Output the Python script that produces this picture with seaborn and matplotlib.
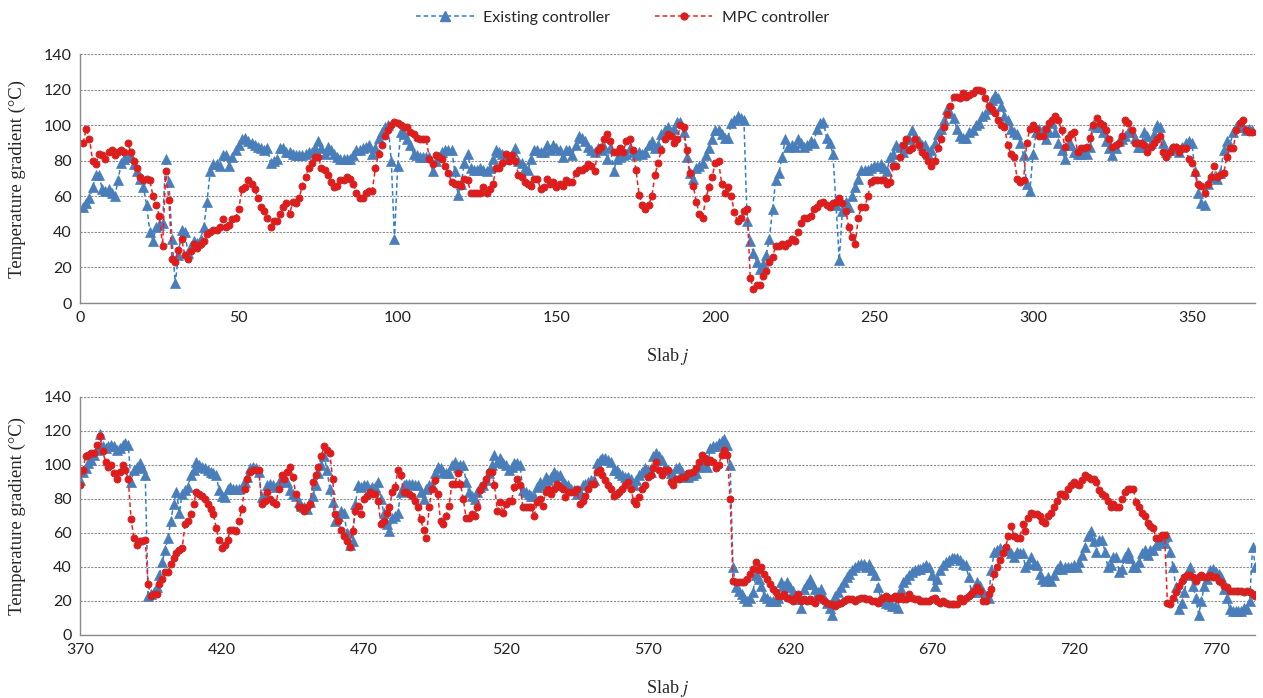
import matplotlib
matplotlib.use('Agg')
import pandas as pd
import matplotlib.pyplot as plt
from matplotlib.lines import Line2D
import seaborn as sns

# Existing controller / MPC controller, slabs 1..369 (upper panel)
existing_top = [
    54, 56, 59, 65, 72, 72, 64, 63, 64, 62,
    60, 69, 79, 81, 82, 82, 78, 74, 70, 65,
    55, 40, 35, 43, 44, 45, 81, 68, 36, 11,
    27, 41, 40, 28, 32, 35, 34, 36, 43, 57,
    74, 78, 78, 77, 83, 83, 77, 82, 86, 89,
    92, 93, 91, 90, 89, 88, 87, 86, 87, 79,
    80, 81, 87, 87, 85, 85, 84, 83, 83, 83,
    84, 85, 85, 87, 91, 87, 84, 88, 86, 84,
    82, 81, 81, 81, 81, 83, 86, 86, 87, 88,
    89, 84, 87, 93, 96, 99, 100, 80, 36, 77,
    96, 95, 92, 89, 84, 83, 82, 82, 82, 82,
    74, 80, 82, 85, 86, 86, 86, 74, 61, 67,
    79, 84, 76, 75, 75, 76, 75, 74, 76, 81,
    86, 85, 84, 81, 82, 83, 87, 80, 79, 76,
    75, 81, 86, 86, 85, 85, 89, 86, 89, 87,
    86, 82, 86, 86, 83, 89, 94, 93, 91, 88,
    86, 85, 87, 86, 88, 81, 87, 74, 81, 82,
    83, 84, 87, 85, 83, 85, 84, 85, 89, 91,
    87, 89, 95, 97, 99, 96, 98, 102, 102, 96,
    82, 73, 70, 76, 77, 79, 83, 87, 92, 97,
    97, 95, 93, 93, 101, 103, 105, 104, 103, 46,
    35, 28, 23, 19, 22, 27, 36, 53, 69, 73,
    82, 92, 88, 89, 88, 92, 90, 88, 89, 91,
    90, 98, 101, 102, 93, 90, 84, 55, 24, 52,
    57, 54, 60, 65, 70, 75, 75, 75, 76, 77,
    77, 78, 76, 74, 82, 84, 89, 88, 85, 87,
    92, 97, 94, 91, 89, 89, 84, 86, 90, 95,
    98, 103, 109, 107, 104, 98, 94, 93, 93, 96,
    97, 100, 101, 105, 106, 109, 114, 117, 115, 111,
    105, 103, 98, 96, 95, 90, 83, 67, 63, 84,
    96, 98, 97, 92, 96, 101, 96, 90, 86, 81,
    89, 89, 85, 84, 84, 85, 84, 88, 100, 99,
    99, 96, 91, 87, 83, 87, 91, 92, 94, 96,
    96, 93, 88, 88, 96, 94, 90, 95, 100, 99,
    90, 85, 86, 87, 87, 85, 88, 90, 91, 90,
    74, 62, 56, 55, 67, 71, 71, 70, 73, 86,
    91, 89, 96, 99, 101, 99, 97, 98, 97,
]
mpc_top = [
    90, 98, 92, 80, 78, 84, 83, 81, 85, 86,
    83, 85, 86, 85, 90, 85, 80, 76, 71, 69,
    70, 69, 60, 55, 49, 32, 74, 58, 25, 23,
    30, 36, 27, 25, 29, 33, 31, 33, 35, 39,
    40, 41, 41, 43, 47, 43, 44, 47, 48, 53,
    64, 65, 69, 67, 64, 59, 54, 52, 48, 43,
    46, 46, 50, 54, 56, 50, 57, 56, 59, 66,
    71, 76, 79, 82, 82, 76, 75, 72, 68, 65,
    66, 69, 69, 71, 70, 67, 62, 59, 59, 62,
    63, 63, 76, 84, 89, 94, 97, 100, 102, 101,
    100, 99, 99, 96, 95, 93, 92, 92, 92, 81,
    78, 83, 82, 81, 77, 73, 68, 67, 67, 66,
    70, 69, 62, 62, 62, 62, 65, 62, 64, 67,
    76, 76, 79, 84, 80, 83, 80, 72, 71, 68,
    67, 66, 70, 70, 64, 65, 70, 67, 68, 65,
    67, 66, 69, 68, 68, 73, 75, 75, 76, 78,
    77, 74, 86, 88, 92, 95, 91, 85, 85, 87,
    85, 91, 92, 86, 75, 61, 55, 53, 55, 60,
    72, 79, 86, 92, 95, 94, 90, 92, 100, 99,
    86, 73, 66, 57, 50, 48, 59, 65, 71, 79,
    80, 67, 62, 65, 60, 51, 46, 48, 52, 53,
    14, 8, 10, 10, 15, 18, 23, 26, 32, 32,
    33, 32, 34, 36, 35, 40, 45, 48, 48, 49,
    53, 54, 56, 57, 55, 54, 56, 57, 59, 56,
    52, 43, 37, 33, 48, 54, 54, 60, 68, 69,
    69, 69, 69, 67, 68, 77, 77, 82, 89, 92,
    86, 87, 92, 89, 85, 83, 80, 77, 80, 87,
    92, 99, 106, 111, 116, 116, 115, 118, 116, 117,
    118, 120, 120, 119, 115, 111, 109, 107, 103, 100,
    99, 89, 84, 82, 70, 68, 69, 90, 98, 100,
    98, 94, 94, 98, 101, 103, 105, 103, 97, 88,
    93, 95, 96, 85, 87, 87, 88, 93, 100, 104,
    101, 100, 97, 92, 88, 89, 90, 94, 103, 101,
    97, 90, 90, 90, 89, 85, 88, 90, 92, 94,
    85, 82, 85, 88, 88, 85, 87, 87, 81, 79,
    73, 67, 66, 62, 67, 71, 77, 71, 72, 73,
    82, 87, 87, 97, 101, 103, 97, 96, 96,
]

# slabs 370..784 (lower panel)
existing_bottom = [
    91, 96, 98, 101, 103, 106, 109, 118, 111, 110,
    111, 112, 111, 109, 110, 112, 113, 112, 90, 97,
    99, 101, 98, 94, 23, 24, 25, 28, 35, 43,
    50, 57, 67, 77, 84, 72, 83, 85, 87, 94,
    97, 102, 100, 99, 98, 97, 96, 95, 94, 85,
    82, 81, 86, 87, 86, 86, 86, 87, 90, 93,
    98, 99, 98, 96, 81, 82, 88, 89, 88, 87,
    90, 92, 91, 90, 85, 83, 82, 78, 76, 75,
    74, 78, 82, 88, 95, 100, 105, 97, 86, 78,
    67, 70, 73, 72, 60, 53, 55, 77, 88, 87,
    88, 88, 85, 87, 87, 90, 80, 72, 65, 61,
    69, 70, 72, 84, 88, 89, 89, 89, 88, 88,
    84, 80, 86, 88, 88, 95, 99, 98, 96, 95,
    95, 100, 102, 99, 100, 100, 90, 84, 82, 80,
    84, 87, 88, 91, 95, 100, 106, 102, 104, 101,
    100, 97, 99, 101, 101, 100, 85, 84, 83, 82,
    82, 87, 90, 88, 93, 91, 93, 96, 94, 94,
    90, 89, 88, 86, 85, 83, 84, 88, 89, 90,
    91, 91, 101, 103, 104, 104, 103, 102, 97, 97,
    95, 94, 93, 93, 92, 88, 91, 94, 96, 98,
    97, 96, 105, 107, 105, 103, 99, 97, 95, 94,
    98, 99, 96, 93, 93, 94, 94, 95, 99, 101,
    100, 99, 110, 111, 111, 113, 114, 115, 112, 100,
    40, 28, 26, 24, 22, 20, 22, 25, 35, 33,
    29, 23, 22, 20, 20, 20, 22, 31, 29, 31,
    28, 26, 23, 21, 16, 27, 30, 33, 30, 27,
    25, 27, 22, 19, 16, 12, 23, 25, 28, 31,
    34, 36, 38, 40, 41, 42, 42, 40, 42, 38,
    35, 28, 22, 20, 19, 18, 17, 17, 16, 27,
    31, 33, 35, 37, 38, 39, 39, 40, 41, 40,
    35, 29, 33, 38, 41, 43, 44, 45, 45, 45,
    44, 42, 41, 34, 25, 25, 31, 29, 25, 23,
    22, 38, 49, 50, 51, 50, 50, 50, 48, 46,
    49, 48, 48, 40, 42, 46, 42, 41, 36, 33,
    32, 34, 32, 35, 39, 41, 39, 40, 40, 40,
    41, 40, 43, 47, 52, 58, 61, 55, 49, 56,
    56, 49, 40, 41, 46, 46, 37, 39, 46, 49,
    45, 40, 40, 43, 48, 50, 47, 50, 50, 53,
    54, 55, 54, 58, 49, 40, 28, 15, 19, 25,
    35, 40, 29, 22, 12, 20, 29, 33, 38, 39,
    37, 36, 34, 27, 22, 15, 14, 14, 14, 14,
    16, 15, 20, 52, 40,
]
mpc_bottom = [
    88, 97, 105, 106, 107, 107, 112, 117, 108, 102,
    99, 100, 95, 92, 96, 100, 97, 92, 68, 57,
    53, 55, 55, 56, 30, 23, 24, 24, 30, 33,
    37, 37, 42, 45, 48, 50, 51, 65, 67, 71,
    77, 84, 83, 82, 80, 77, 74, 71, 63, 56,
    51, 53, 56, 62, 62, 61, 67, 74, 86, 92,
    96, 97, 97, 97, 77, 79, 84, 80, 78, 77,
    86, 94, 92, 96, 99, 93, 83, 75, 75, 73,
    75, 77, 90, 94, 99, 105, 111, 109, 107, 92,
    71, 67, 62, 58, 55, 52, 61, 73, 76, 71,
    80, 82, 84, 83, 83, 79, 65, 67, 72, 75,
    84, 87, 97, 94, 84, 84, 83, 82, 79, 75,
    68, 62, 57, 75, 86, 91, 83, 67, 65, 70,
    76, 89, 89, 95, 89, 80, 69, 69, 71, 70,
    75, 85, 88, 92, 96, 96, 88, 73, 78, 72,
    77, 79, 79, 87, 92, 88, 75, 75, 75, 75,
    70, 78, 80, 76, 84, 86, 83, 86, 89, 87,
    86, 81, 84, 84, 84, 86, 77, 79, 82, 86,
    89, 89, 96, 97, 94, 91, 88, 86, 82, 83,
    84, 86, 88, 90, 86, 79, 77, 81, 86, 88,
    93, 94, 98, 102, 97, 94, 97, 97, 90, 88,
    92, 92, 93, 93, 95, 95, 96, 98, 102, 106,
    104, 102, 103, 102, 98, 100, 106, 109, 106, 80,
    32, 31, 31, 31, 31, 33, 36, 39, 43, 38,
    40, 36, 33, 30, 27, 25, 23, 23, 24, 22,
    21, 20, 22, 24, 20, 21, 20, 21, 20, 19,
    22, 22, 20, 19, 18, 18, 17, 18, 19, 20,
    21, 21, 21, 20, 21, 22, 22, 21, 21, 20,
    20, 19, 21, 22, 23, 22, 22, 23, 21, 23,
    21, 21, 24, 22, 21, 21, 20, 20, 20, 20,
    21, 22, 20, 19, 20, 19, 18, 18, 18, 18,
    22, 20, 22, 23, 24, 26, 28, 26, 20, 20,
    24, 27, 36, 40, 44, 48, 52, 58, 64, 58,
    57, 57, 65, 61, 69, 72, 71, 71, 70, 67,
    66, 70, 72, 75, 79, 83, 83, 82, 86, 88,
    90, 89, 88, 91, 94, 93, 92, 92, 90, 85,
    83, 82, 79, 75, 77, 75, 75, 80, 84, 86,
    86, 86, 78, 75, 72, 70, 66, 64, 63, 57,
    57, 59, 59, 19, 18, 22, 25, 29, 32, 34,
    35, 35, 34, 32, 34, 35, 34, 34, 35, 34,
    34, 32, 31, 29, 28, 26, 26, 26, 26, 26,
    25, 26, 25, 24, 23,
]

slab_top = list(range(1, len(existing_top) + 1))
slab_bottom = list(range(370, 370 + len(existing_bottom)))

y_ticks = [0, 20, 40, 60, 80, 100, 120, 140]
x_ticks_top = [0, 50, 100, 150, 200, 250, 300, 350]
x_ticks_bottom = [370, 420, 470, 520, 570, 620, 670, 720, 770]

BLUE_LINE = '#2F7FD0'
BLUE_MARK = '#4A7EBB'
RED_LINE = '#FF1A1A'
RED_FACE = '#F01515'
RED_EDGE = '#B83030'
GRID = '#8C8C8C'

sns.set_theme(style='white')
plt.rcParams['font.family'] = ['Lato', 'DejaVu Sans']
plt.rcParams['mathtext.fontset'] = 'stix'


def draw_panel(ax, slabs, existing, mpc, xlim, xticks):
    df = pd.DataFrame({'slab': slabs, 'existing': existing, 'mpc': mpc})
    sns.lineplot(data=df, x='slab', y='existing', ax=ax, color=BLUE_LINE,
                 linewidth=1.1, linestyle=(0, (3, 2)), marker='^',
                 markersize=7, markerfacecolor=BLUE_MARK,
                 markeredgecolor=BLUE_MARK, markeredgewidth=0.5,
                 errorbar=None)
    sns.lineplot(data=df, x='slab', y='mpc', ax=ax, color=RED_LINE,
                 linewidth=1.1, linestyle=(0, (3, 2)), marker='o',
                 markersize=5, markerfacecolor=RED_FACE,
                 markeredgecolor=RED_EDGE, markeredgewidth=0.7,
                 errorbar=None)
    ax.set_xlim(*xlim)
    ax.set_ylim(0, 140)
    ax.set_xticks(xticks)
    ax.set_yticks(y_ticks)
    ax.yaxis.grid(True, color=GRID, linestyle=(0, (2, 1.2)), linewidth=0.8)
    ax.xaxis.grid(False)
    ax.set_axisbelow(True)
    for side in ['top', 'right']:
        ax.spines[side].set_visible(False)
    for side in ['left', 'bottom']:
        ax.spines[side].set_color('#8A8A8A')
        ax.spines[side].set_linewidth(1.0)
    ax.tick_params(axis='both', length=0, labelsize=11.5, colors='#222222', pad=6)
    ax.set_ylabel('Temperature gradient (°C)', family='Liberation Serif', fontsize=13.5)
    ax.yaxis.set_label_coords(-0.046, 0.5)
    ax.set_xlabel('Slab $j$', family='Liberation Serif', fontsize=13, labelpad=15)


fig = plt.figure(figsize=(12.63, 6.98), dpi=100)
ax_top = fig.add_axes([0.0633, 0.5659, 0.9307, 0.3567])
ax_bot = fig.add_axes([0.0633, 0.0903, 0.9307, 0.3410])

draw_panel(ax_top, slab_top, existing_top, mpc_top, (0, 370), x_ticks_top)
draw_panel(ax_bot, slab_bottom, existing_bottom, mpc_bottom, (370, 784), x_ticks_bottom)

handles = [
    Line2D([], [], color=BLUE_LINE, linewidth=1.1, linestyle=(0, (3, 2)),
           marker='^', markersize=7, markerfacecolor=BLUE_MARK,
           markeredgecolor=BLUE_MARK),
    Line2D([], [], color=RED_LINE, linewidth=1.1, linestyle=(0, (3, 2)),
           marker='o', markersize=5, markerfacecolor=RED_FACE,
           markeredgecolor=RED_EDGE),
]
fig.legend(handles, ['Existing controller', 'MPC controller'], loc='center',
           bbox_to_anchor=(0.493, 0.975), ncol=2, frameon=False, fontsize=11.5,
           handlelength=3.6, columnspacing=2.8, handletextpad=0.6)

fig.savefig('out.png', dpi=100)
